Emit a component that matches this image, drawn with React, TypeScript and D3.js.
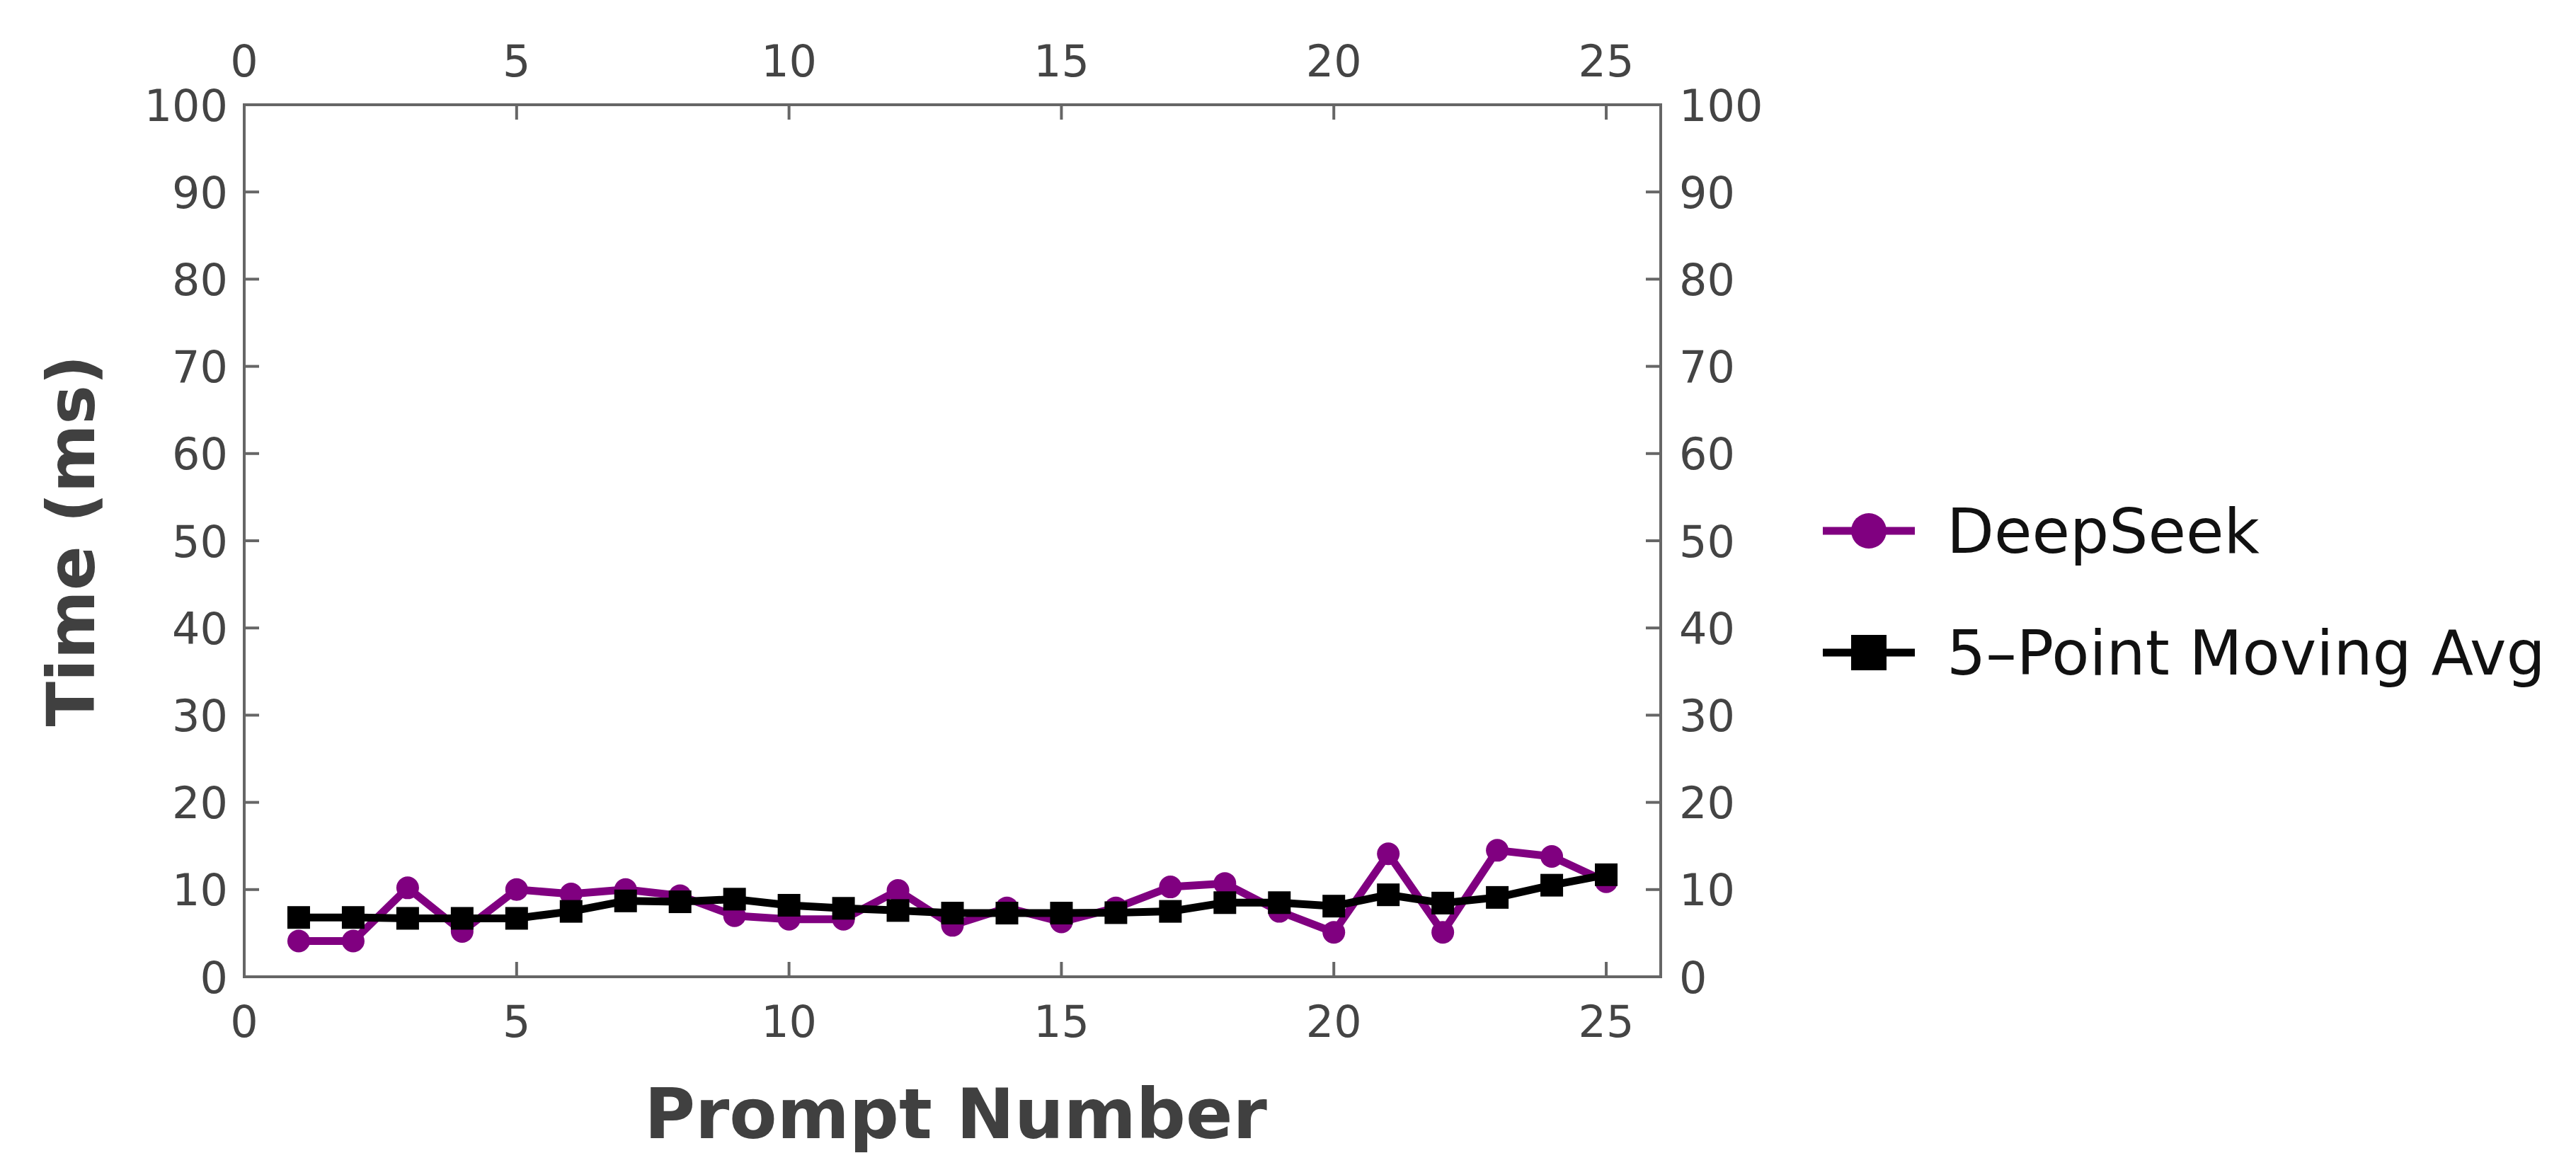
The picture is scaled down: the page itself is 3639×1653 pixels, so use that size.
import React from "react";
import * as d3 from "d3";

const prompts = [1,2,3,4,5,6,7,8,9,10,11,12,13,14,15,16,17,18,19,20,21,22,23,24,25];
const deepseek = [4.1,4.1,10.2,5.2,10.0,9.5,10.0,9.3,7.0,6.6,6.6,9.9,5.9,7.9,6.3,7.9,10.3,10.7,7.5,5.1,14.1,5.1,14.5,13.8,10.9];
const movingAvg = [6.8,6.8,6.7,6.7,6.7,7.5,8.7,8.6,8.9,8.2,7.85,7.6,7.3,7.3,7.3,7.35,7.5,8.5,8.5,8.1,9.4,8.45,9.1,10.5,11.7];
const xTicks = [0,5,10,15,20,25];
const yTicks = [0,10,20,30,40,50,60,70,80,90,100];
const seriesNames = ["DeepSeek", "5\u2013Point Moving Avg"];

const W = 3639, H = 1653;
const L = 345, R = 2346, T = 148, B = 1380;
const AX = "#666666";
const TXT = "#444444";
const FONT = "'DejaVu Sans', Verdana, sans-serif";

export default function App() {
  const x = d3.scaleLinear().domain([0, 26]).range([L, R]);
  const y = d3.scaleLinear().domain([0, 100]).range([B, T]);
  const line = d3.line<number>().x((_, i) => x(prompts[i])).y((d) => y(d));
  const tick = 21;
  const ms = 32;

  return (
    <svg width={W} height={H} style={{ position: "absolute", left: 0, top: 0, background: "#fff" }} fontFamily={FONT}>
      <rect x={0} y={0} width={W} height={H} fill="#ffffff" />
      {/* data */}
      <path d={line(deepseek) || ""} fill="none" stroke="#800080" strokeWidth={11} strokeLinejoin="round" />
      {deepseek.map((v, i) => (
        <circle key={"p" + i} cx={x(prompts[i])} cy={y(v)} r={ms / 2} fill="#800080" />
      ))}
      <path d={line(movingAvg) || ""} fill="none" stroke="#000" strokeWidth={11} strokeLinejoin="round" />
      {movingAvg.map((v, i) => (
        <rect key={"m" + i} x={x(prompts[i]) - ms / 2} y={y(v) - ms / 2} width={ms} height={ms} fill="#000" />
      ))}
      {/* frame */}
      <rect x={L} y={T} width={R - L} height={B - T} fill="none" stroke={AX} strokeWidth={4} />
      {/* x ticks */}
      {xTicks.map((t) => (
        <g key={"x" + t}>
          <line x1={x(t)} x2={x(t)} y1={B} y2={B - tick} stroke={AX} strokeWidth={4} />
          <line x1={x(t)} x2={x(t)} y1={T} y2={T + tick} stroke={AX} strokeWidth={4} />
          <text x={x(t)} y={B + 85} textAnchor="middle" fontSize={62} fill={TXT}>{t}</text>
          <text x={x(t)} y={T - 40} textAnchor="middle" fontSize={62} fill={TXT}>{t}</text>
        </g>
      ))}
      {/* y ticks */}
      {yTicks.map((t) => (
        <g key={"y" + t}>
          <line x1={L} x2={L + tick} y1={y(t)} y2={y(t)} stroke={AX} strokeWidth={4} />
          <line x1={R} x2={R - tick} y1={y(t)} y2={y(t)} stroke={AX} strokeWidth={4} />
          <text x={L - 23} y={y(t) + 22.5} textAnchor="end" fontSize={62} fill={TXT}>{t}</text>
          <text x={R + 26} y={y(t) + 22.5} textAnchor="start" fontSize={62} fill={TXT}>{t}</text>
        </g>
      ))}
      {/* axis titles */}
      <text x={1350} y={1608} textAnchor="middle" fontSize={98} fontWeight="bold" fill="#404040">Prompt Number</text>
      <text transform={`translate(133, ${(T + B) / 2}) rotate(-90)`} textAnchor="middle" fontSize={93} fontWeight="bold" fill="#404040">Time (ms)</text>
      {/* legend */}
      <g>
        <line x1={2575} x2={2705} y1={750} y2={750} stroke="#800080" strokeWidth={11} />
        <circle cx={2640} cy={750} r={25} fill="#800080" />
        <text x={2750} y={750 + 31} fontSize={87} fill="#111">{seriesNames[0]}</text>
        <line x1={2575} x2={2705} y1={922} y2={922} stroke="#000" strokeWidth={11} />
        <rect x={2640 - 25} y={922 - 25} width={50} height={50} fill="#000" />
        <text x={2750} y={922 + 31} fontSize={87} fill="#111">{seriesNames[1]}</text>
      </g>
    </svg>
  );
}
